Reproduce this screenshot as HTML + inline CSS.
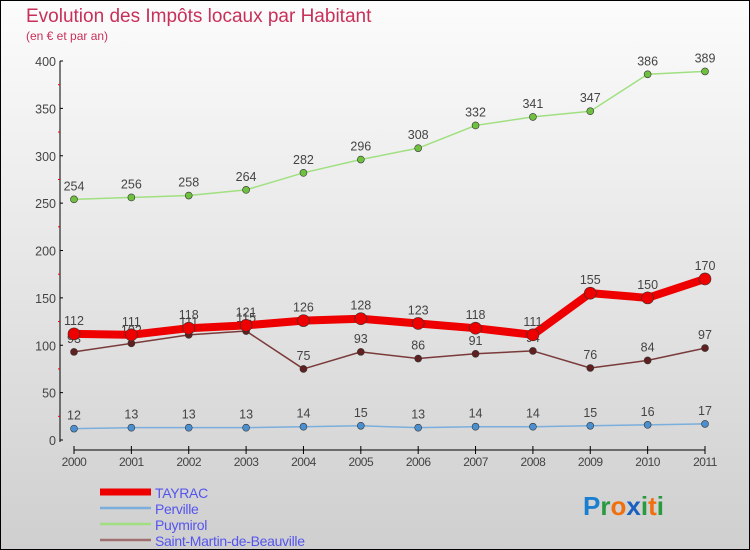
<!DOCTYPE html>
<html><head><meta charset="utf-8"><style>
body{margin:0;}
#wrap{width:750px;height:550px;position:relative;box-sizing:border-box;border:1px solid #000;background:linear-gradient(#fcfcfc,#cfcfcf);font-family:"Liberation Sans",sans-serif;overflow:hidden}
</style></head><body>
<div id="wrap">
<svg id="chart" width="750" height="550" style="position:absolute;left:-1px;top:-1px"></svg>
</div>
<script>
const years=["2000","2001","2002","2003","2004","2005","2006","2007","2008","2009","2010","2011"];
const tayrac=[112,111,118,121,126,128,123,118,111,155,150,170];
const perville=[12,13,13,13,14,15,13,14,14,15,16,17];
const puymirol=[254,256,258,264,282,296,308,332,341,347,386,389];
const stmartin=[93,102,111,115,75,93,86,91,94,76,84,97];
const yTicks=[0,50,100,150,200,250,300,350,400];
const seriesNames=["TAYRAC","Perville","Puymirol","Saint-Martin-de-Beauville"];
const NS="http://www.w3.org/2000/svg";
const svg=document.getElementById('chart');
function X(i){return 74+i*(705-74)/11;}
function Y(v){return 440-v*(440-61)/400;}
function el(t,a,p){const e=document.createElementNS(NS,t);for(const k in a)e.setAttribute(k,a[k]);(p||svg).appendChild(e);return e;}
let t=el('text',{x:26,y:22,fill:'#c8305a','font-size':19});t.textContent="Evolution des Impôts locaux par Habitant";

t=el('text',{x:26,y:40,fill:'#c8305a','font-size':12});t.textContent="(en € et par an)";

let a=el('line',{x1:60,y1:61,x2:60,y2:442,stroke:'#000','stroke-width':1});

a=el('line',{x1:74,y1:450,x2:705,y2:450,stroke:'#000','stroke-width':1});

yTicks.forEach(v=>{el('line',{x1:60,y1:Y(v),x2:63,y2:Y(v),stroke:'#000'});
 const l=el('text',{x:56,y:Y(v)+5,'text-anchor':'end','font-size':12.5,fill:'#444'});l.textContent=v;
 
 if(v<400)el('line',{x1:58,y1:Y(v+25),x2:60,y2:Y(v+25),stroke:'#e00'});});
years.forEach((y,i)=>{el('line',{x1:X(i),y1:446,x2:X(i),y2:454,stroke:'#000'});
 const l=el('text',{x:X(i),y:466,'text-anchor':'middle','font-size':12,fill:'#444','letter-spacing':'-0.5'});l.textContent=y;
 });
function series(data,color,w,r,dot,name){
 const g=el('g',{});
 el('polyline',{points:data.map((v,i)=>X(i)+','+Y(v)).join(' '),fill:'none',stroke:color,'stroke-width':w,'stroke-linejoin':'round'},g);
 data.forEach((v,i)=>{const c=el('circle',{cx:X(i),cy:Y(v),r:r,fill:dot,stroke:'#333','stroke-width':0.6},g);
  
  const l=el('text',{x:X(i),y:Y(v)-9,'text-anchor':'middle','font-size':12.5,fill:'#444'},g);l.textContent=v;
  });
}
series(perville,'#7aaedc',1.5,3.5,'#4a90d0','perville');
series(puymirol,'#a0e080',1.5,3.5,'#70c040','puymirol');
series(stmartin,'#7a3a3a',1.5,3.5,'#602020','saint-martin');
series(tayrac,'#ee0000',8,6,'#ee0000','tayrac');
const lc=['#ee0000','#7aaedc','#a0e080','#a07070'],lw=[7,2.5,2.5,2.5];
seriesNames.forEach((n,i)=>{const g=el('g',{});
 const yy=492+i*16;el('line',{x1:100,y1:yy,x2:151,y2:yy,stroke:lc[i],'stroke-width':lw[i]},g);
 const l=el('text',{x:155,y:yy+6,'font-size':14,fill:'#5555ee','letter-spacing':'-0.3'},g);l.textContent=n;});
t=el('text',{x:583,y:515,'font-size':26,'font-weight':'bold'});
[['P','#1a7fd0'],['r','#2a9a40'],['o','#f07010'],['x','#1a60c0'],['i','#2a9a40'],['t','#f07010'],['i','#2a9a40']].forEach(([c,f])=>{const s=el('tspan',{fill:f},t);s.textContent=c;});
</script>
</body></html>
